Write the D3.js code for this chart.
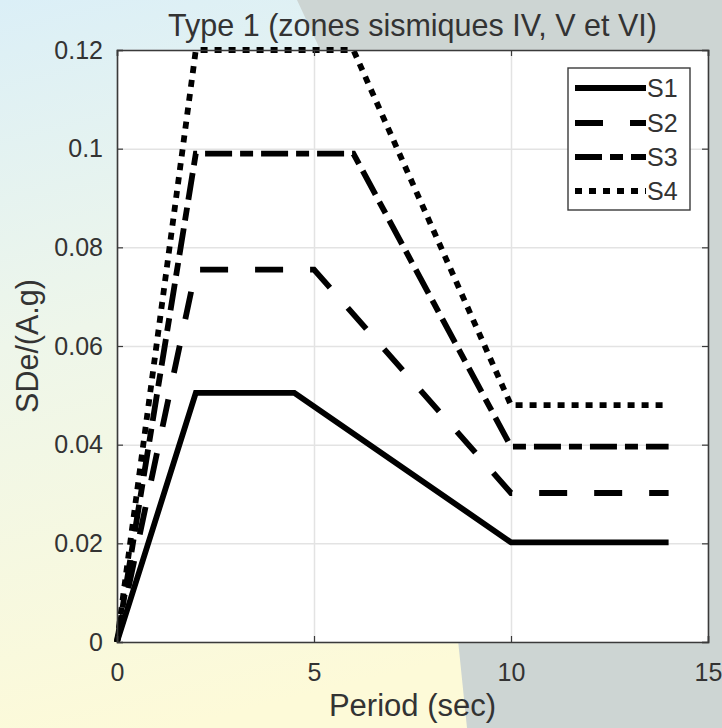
<!DOCTYPE html>
<html>
<head>
<meta charset="utf-8">
<script src="https://cdn.jsdelivr.net/npm/d3@7"></script>
<style>
  html, body { margin: 0; padding: 0; }
  body { width: 722px; height: 728px; overflow: hidden; }
  svg text { font-family: "Liberation Sans", Arial, Helvetica, sans-serif; fill: #333333; }
</style>
</head>
<body>
<svg id="chart" width="722" height="728"></svg>
<script>
// Period axis (sec)
const xTicks = [0, 5, 10, 15];
const yTicks = [0, 0.02, 0.04, 0.06, 0.08, 0.1, 0.12];
const yTickLabels = ["0", "0.02", "0.04", "0.06", "0.08", "0.1", "0.12"];

// Spectrum corner points for each soil class
const periodS1 = [0, 2, 4.5, 10, 14];
const valueS1  = [0, 0.0505, 0.0505, 0.0202, 0.0202];
const periodS2 = [0, 2, 5, 10, 14];
const valueS2  = [0, 0.0755, 0.0755, 0.0302, 0.0302];
const periodS3 = [0, 2, 6, 10, 14];
const valueS3  = [0, 0.099, 0.099, 0.0396, 0.0396];
const periodS4 = [0, 2, 6, 10, 14];
const valueS4  = [0, 0.12, 0.12, 0.048, 0.048];

const seriesNames = ["S1", "S2", "S3", "S4"];
const dashes = [null, "28,27", "27,8,13,8", "7,7"];

const titleText = "Type 1 (zones sismiques IV, V et VI)";
const xLabel = "Period (sec)";
const yLabel = "SDe/(A.g)";

const svg = d3.select("#chart");
const W = 722, H = 728;
const m = { left: 117, right: 708, top: 50, bottom: 642 };

// Slide background: pale blue-to-yellow wash with a grey panel on the right
const defs = svg.append("defs");
const grad = defs.append("linearGradient").attr("id", "wash")
  .attr("x1", 0).attr("y1", 0).attr("x2", 0.25).attr("y2", 1);
grad.append("stop").attr("offset", "0%").attr("stop-color", "#dbeff7");
grad.append("stop").attr("offset", "45%").attr("stop-color", "#eef6ea");
grad.append("stop").attr("offset", "100%").attr("stop-color", "#fdfad8");
svg.append("rect").attr("width", W).attr("height", H).attr("fill", "url(#wash)");
svg.append("path")
  .attr("d", "M297,0 L318,45 L458,640 L467,728 L722,728 L722,0 Z")
  .attr("fill", "#cdd5d3");

const x = d3.scaleLinear().domain([0, 15]).range([m.left, m.right]);
const y = d3.scaleLinear().domain([0, 0.12]).range([m.bottom, m.top]);

// Plot area
svg.append("rect")
  .attr("x", m.left).attr("y", m.top)
  .attr("width", m.right - m.left).attr("height", m.bottom - m.top)
  .attr("fill", "#ffffff");

// Grid
const grid = svg.append("g").attr("class", "grid");
grid.append("g").attr("transform", `translate(0,${m.bottom})`)
  .call(d3.axisBottom(x).tickValues(xTicks).tickSize(-(m.bottom - m.top)).tickFormat(""));
grid.append("g").attr("transform", `translate(${m.left},0)`)
  .call(d3.axisLeft(y).tickValues(yTicks).tickSize(-(m.right - m.left)).tickFormat(""));
grid.selectAll(".domain").remove();
grid.selectAll("line").attr("stroke", "#e3e3e3").attr("stroke-width", 1.5);

// Spectra
const series = [
  { name: seriesNames[0], t: periodS1, v: valueS1 },
  { name: seriesNames[1], t: periodS2, v: valueS2 },
  { name: seriesNames[2], t: periodS3, v: valueS3 },
  { name: seriesNames[3], t: periodS4, v: valueS4 }
];
const line = d3.line().x(d => x(d[0])).y(d => y(d[1]));
const plot = svg.append("g");
series.forEach((s, i) => {
  const pts = s.t.map((t, k) => [t, s.v[k]]);
  plot.append("path")
    .attr("d", line(pts))
    .attr("fill", "none")
    .attr("stroke", "#000")
    .attr("stroke-width", 5.8)
    .attr("stroke-linejoin", "miter")
    .attr("stroke-dasharray", dashes[i]);
});

// Axes (MATLAB-style box with inward ticks)
const axisColor = "#3a3a3a";
const fs = 25;
const gx = svg.append("g").attr("transform", `translate(0,${m.bottom})`)
  .call(d3.axisBottom(x).tickValues(xTicks).tickSize(-6).tickPadding(21).tickFormat(d3.format("d")));
const gy = svg.append("g").attr("transform", `translate(${m.left},0)`)
  .call(d3.axisLeft(y).tickValues(yTicks).tickSize(-6).tickPadding(14)
    .tickFormat((d, i) => yTickLabels[i]));
const gxt = svg.append("g").attr("transform", `translate(0,${m.top})`)
  .call(d3.axisTop(x).tickValues(xTicks).tickSize(-6).tickFormat(""));
const gyr = svg.append("g").attr("transform", `translate(${m.right},0)`)
  .call(d3.axisRight(y).tickValues(yTicks).tickSize(-6).tickFormat(""));
[gx, gy, gxt, gyr].forEach(g => {
  g.select(".domain").attr("stroke", axisColor).attr("stroke-width", 1.6);
  g.selectAll(".tick line").attr("stroke", axisColor).attr("stroke-width", 1.2);
  g.selectAll("text").attr("font-size", fs).attr("fill", "#333333")
    .style("font-family", "'Liberation Sans', Arial, sans-serif");
});

// Title and axis labels
svg.append("text")
  .attr("x", (m.left + m.right) / 2).attr("y", 36)
  .attr("text-anchor", "middle").attr("font-size", 30.5)
  .text(titleText);
svg.append("text")
  .attr("x", (m.left + m.right) / 2).attr("y", 716)
  .attr("text-anchor", "middle").attr("font-size", 31)
  .text(xLabel);
svg.append("text")
  .attr("transform", `translate(38,${(m.top + m.bottom) / 2}) rotate(-90)`)
  .attr("text-anchor", "middle").attr("font-size", 30.5)
  .text(yLabel);

// Legend
const lg = svg.append("g");
lg.append("rect")
  .attr("x", 568).attr("y", 68).attr("width", 122).attr("height", 142)
  .attr("fill", "#fff").attr("stroke", axisColor).attr("stroke-width", 1.4);
const rowY = [88, 123, 157, 191];
series.forEach((s, i) => {
  lg.append("line")
    .attr("x1", 575).attr("x2", 646).attr("y1", rowY[i]).attr("y2", rowY[i])
    .attr("stroke", "#000").attr("stroke-width", 5.8)
    .attr("stroke-dasharray", dashes[i]);
  lg.append("text")
    .attr("x", 647).attr("y", rowY[i]).attr("dy", "0.36em")
    .attr("font-size", fs)
    .text(s.name);
});
</script>
</body>
</html>
